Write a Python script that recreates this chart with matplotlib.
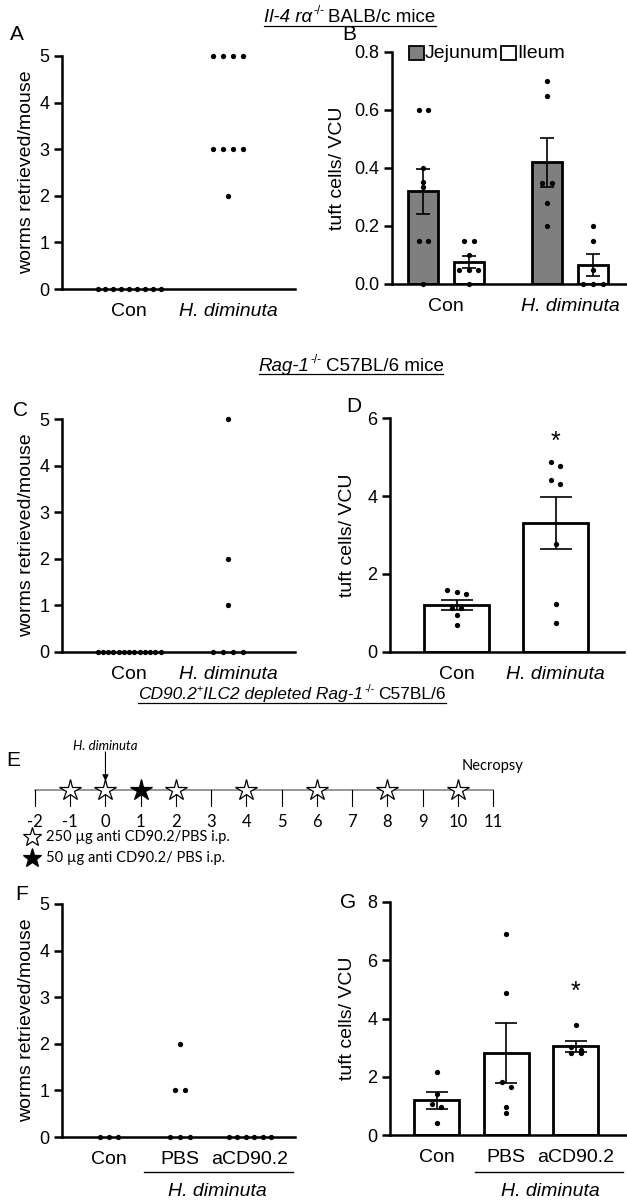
import matplotlib
matplotlib.use('Agg')
import matplotlib.pyplot as plt
from matplotlib.lines import Line2D
from matplotlib.patches import Rectangle
import numpy as np

plt.rcParams['font.family'] = ['Liberation Sans', 'DejaVu Sans']

# ---------------- data ----------------
# Panel A  (Il-4 ra-/- BALB/c) worms retrieved
a_labels = ['Con', 'H. diminuta']
a_con = [0, 0, 0, 0, 0, 0, 0, 0, 0]
a_hd = [5, 5, 5, 5, 3, 3, 3, 3, 2]

# Panel B  tuft cells / VCU, jejunum & ileum
b_labels = ['Con', 'H. diminuta']
b_series = ['Jejunum', 'Ileum']
b_jej_mean = [0.32, 0.42]
b_jej_sem = [0.077, 0.085]
b_ile_mean = [0.077, 0.065]
b_ile_sem = [0.021, 0.037]
b_jej_con = [0.6, 0.6, 0.4, 0.353, 0.333, 0.15, 0.15, 0.0]
b_jej_hd = [0.7, 0.65, 0.35, 0.35, 0.28, 0.2]
b_ile_con = [0.15, 0.15, 0.1, 0.05, 0.05, 0.05, 0.0]
b_ile_hd = [0.2, 0.15, 0.05, 0.0, 0.0, 0.0]

# Panel C  (Rag-1-/-) worms retrieved
c_labels = ['Con', 'H. diminuta']
c_con = [0] * 13
c_hd = [5, 2, 1, 0, 0, 0, 0]

# Panel D  tuft cells / VCU
d_labels = ['Con', 'H. diminuta']
d_mean = [1.21, 3.31]
d_sem = [0.135, 0.66]
d_con = [1.6, 1.53, 1.5, 1.14, 1.12, 0.95, 0.69]
d_hd = [4.88, 4.76, 4.42, 4.32, 2.78, 1.24, 0.74]

# Panel E  timeline
e_days = list(range(-2, 12))
e_open_star_days = [-1, 0, 2, 4, 6, 8, 10]
e_filled_star_days = [1]
e_infection_day = 0
e_necropsy_day = 11

# Panel F  worms retrieved
f_labels = ['Con', 'PBS', 'aCD90.2']
f_con = [0, 0, 0]
f_pbs = [2, 1, 1, 0, 0, 0]
f_acd = [0, 0, 0, 0, 0, 0]

# Panel G  tuft cells / VCU
g_labels = ['Con', 'PBS', 'aCD90.2']
g_mean = [1.19, 2.82, 3.05]
g_sem = [0.29, 1.02, 0.19]
g_con = [2.15, 1.4, 1.05, 0.95, 0.4]
g_pbs = [6.9, 4.89, 1.81, 1.64, 0.96, 0.77]
g_acd = [3.76, 3.03, 2.92, 2.82, 2.82]

# ---------------- helpers ----------------
W, H = 627, 1200
fig = plt.figure(figsize=(W / 100, H / 100), dpi=100)

TICK_FS = 13
XLAB_FS = 14
YLAB_FS = 14
LET_FS = 15
E_FONT = ['Lato', 'DejaVu Sans']


def add_ax(l, t, r, b):
    return fig.add_axes([l / W, 1 - b / H, (r - l) / W, (b - t) / H])


def style(ax):
    for s in ['top', 'right']:
        ax.spines[s].set_visible(False)
    for s in ['left', 'bottom']:
        ax.spines[s].set_linewidth(1.8)
    ax.tick_params(axis='y', direction='out', length=6, width=1.8,
                   labelsize=TICK_FS, pad=3)
    ax.tick_params(axis='x', length=0, labelsize=XLAB_FS, pad=10)
    ax.patch.set_alpha(0)


def set_xlabels(ax, labels):
    ax.set_xticks(range(len(labels)))
    ax.set_xticklabels(labels)
    for t in ax.get_xticklabels():
        if t.get_text().startswith('H.'):
            t.set_style('italic')


def spread_x(ax, center, values, spacing_px=9.0, maxw_px=63, tol_px=5):
    bb = ax.get_position()
    xl = ax.get_xlim()
    yl = ax.get_ylim()
    ppx = bb.width * W / (xl[1] - xl[0])
    ppy = bb.height * H / (yl[1] - yl[0])
    vals = np.asarray(values, float)
    order = np.argsort(-vals, kind='stable')
    rows = []
    for i in order:
        if rows and abs(vals[rows[-1][0]] - vals[i]) * ppy < tol_px:
            rows[-1].append(i)
        else:
            rows.append([i])
    xs = np.zeros(len(vals))
    for row in rows:
        n = len(row)
        s = spacing_px if n < 2 else min(spacing_px, maxw_px / (n - 1))
        for k, i in enumerate(row):
            xs[i] = center + (k - (n - 1) / 2) * s / ppx
    return xs


def dots(ax, center, values, ms=3.8, **kw):
    xs = spread_x(ax, center, values, **kw)
    ax.plot(xs, values, 'o', color='k', ms=ms, mew=0, clip_on=False, zorder=5)


def bar_px(ax):
    bb = ax.get_position()
    xl = ax.get_xlim()
    return bb.width * W / (xl[1] - xl[0])


def bars(ax, pos, means, sems, width, color='white'):
    ax.bar(pos, means, width, color=color, edgecolor='k', linewidth=2.0,
           zorder=2)
    cap_pt = width * bar_px(ax) * 0.25 * 0.72
    ax.errorbar(pos, means, yerr=sems, fmt='none', ecolor='k',
                elinewidth=1.2, capsize=cap_pt, capthick=1.2, zorder=4)


def ylab(x, y, s):
    fig.text(x / W, 1 - y / H, s, rotation=90, ha='center', va='center',
             fontsize=YLAB_FS)


def letter(x, y, s):
    fig.text(x / W, 1 - y / H, s, ha='center', va='center', fontsize=LET_FS)


def rich_title(cx, y, pieces, size, family=None):
    objs = []
    for txt, st, sup, gap in pieces:
        fs = size * 0.62 if sup else size
        kw = {}
        if family:
            kw['family'] = family
        o = fig.text(0, 0, txt, fontsize=fs, style=st, ha='left',
                     va='baseline', **kw)
        objs.append((o, sup, gap))
    fig.canvas.draw()
    r = fig.canvas.get_renderer()
    widths = [o.get_window_extent(r).width for o, _, _ in objs]
    total = sum(widths) + sum(g for _, _, g in objs)
    x = cx - total / 2
    for (o, sup, gap), w in zip(objs, widths):
        x += gap
        yy = y - (size * 1.389 * 0.42 if sup else 0)
        o.set_position((x / W, 1 - yy / H))
        x += w
    x0 = cx - total / 2
    fig.add_artist(Line2D([x0 / W, (x0 + total) / W],
                          [1 - (y + 3.5) / H] * 2, color='k', lw=0.9,
                          transform=fig.transFigure))


# ---------------- titles ----------------
rich_title(350, 22, [('Il-4 rα', 'italic', False, 0),
                     ('-/-', 'normal', True, 1),
                     ('BALB/c mice', 'normal', False, 4)], 13.5)
rich_title(351, 371, [('Rag-1', 'italic', False, 0),
                      ('-/-', 'normal', True, 1),
                      ('C57BL/6 mice', 'normal', False, 4)], 13.5)
rich_title(292, 699, [('CD90.2', 'italic', False, 0),
                      ('+', 'normal', True, 0),
                      ('ILC2 depleted Rag-1', 'italic', False, 0),
                      ('-/-', 'normal', True, 1),
                      ('C57BL/6', 'normal', False, 4)], 12.5)

# ---------------- Panel A ----------------
axA = add_ax(62, 56, 295, 289)
style(axA)
axA.set_xlim(-0.677, 1.677)
axA.set_ylim(0, 5)
axA.set_yticks(range(0, 6))
set_xlabels(axA, a_labels)
dots(axA, 0, a_con)
dots(axA, 1, a_hd, spacing_px=9.7)
ylab(27, 172, 'worms retrieved/mouse')
letter(17, 35, 'A')

# ---------------- Panel B ----------------
axB = add_ax(392, 52, 626, 284)
style(axB)
axB.set_xlim(-0.435, 1.45)
axB.set_ylim(0, 0.8)
axB.set_yticks(np.arange(0, 0.81, 0.2))
axB.set_yticklabels([f'{v:.1f}' for v in np.arange(0, 0.81, 0.2)])
set_xlabels(axB, b_labels)
off = 0.185
bw = 0.24
gx = np.arange(len(b_labels))
bars(axB, gx - off, b_jej_mean, b_jej_sem, bw, color='#7f7f7f')
bars(axB, gx + off, b_ile_mean, b_ile_sem, bw, color='white')
dots(axB, 0 - off, b_jej_con, spacing_px=9)
dots(axB, 1 - off, b_jej_hd, spacing_px=10)
dots(axB, 0 + off, b_ile_con, spacing_px=9.5)
dots(axB, 1 + off, b_ile_hd, spacing_px=10)
ylab(338, 168, 'tuft cells/ VCU')
letter(349, 35, 'B')
# legend
for (x0, col, name) in [(409, '#7f7f7f', b_series[0]), (501, 'white', b_series[1])]:
    fig.add_artist(Rectangle((x0 / W, 1 - 60 / H), 15 / W, 14 / H,
                             transform=fig.transFigure, facecolor=col,
                             edgecolor='k', lw=1.3))
    fig.text((x0 + 16) / W, 1 - 53 / H, name, ha='left', va='center',
             fontsize=14)

# ---------------- Panel C ----------------
axC = add_ax(62, 419, 295, 652)
style(axC)
axC.set_xlim(-0.677, 1.677)
axC.set_ylim(0, 5)
axC.set_yticks(range(0, 6))
set_xlabels(axC, c_labels)
dots(axC, 0, c_con)
dots(axC, 1, c_hd, spacing_px=9.7)
ylab(27, 535, 'worms retrieved/mouse')
letter(20, 410, 'C')

# ---------------- Panel D ----------------
axD = add_ax(390, 418, 624, 652)
style(axD)
axD.set_xlim(-0.672, 1.69)
axD.set_ylim(0, 6)
axD.set_yticks([0, 2, 4, 6])
set_xlabels(axD, d_labels)
bars(axD, [0, 1], d_mean, d_sem, 0.657)
dots(axD, 0, d_con, spacing_px=9.5)
dots(axD, 1, d_hd, spacing_px=9.5)
axD.text(1, 5.38, '*', ha='center', va='center', fontsize=18)
ylab(347, 535, 'tuft cells/ VCU')
letter(354, 407, 'D')

# ---------------- Panel E ----------------
axE = add_ax(0, 740, 627, 870)
axE.set_axis_off()
ppd = (493 - 35) / (e_days[-1] - e_days[0])
axE.set_xlim(e_days[0] - 35 / ppd, e_days[-1] + (627 - 493) / ppd)
axE.set_ylim(870, 740)
LINE_Y, TICK_Y, LAB_Y = 790, 806, 822
axE.plot([e_days[0], e_days[-1]], [LINE_Y, LINE_Y], color='#7a7a7a', lw=1.1,
         zorder=1)
for d in e_days:
    axE.plot([d, d], [LINE_Y, TICK_Y], color='k', lw=0.8, zorder=1)
    axE.text(d, LAB_Y, str(d), ha='center', va='center', fontsize=12,
             family=E_FONT)
axE.plot(e_open_star_days, [LINE_Y] * len(e_open_star_days), '*', ms=16,
         mfc='white', mec='k', mew=0.9, zorder=3)
axE.plot(e_filled_star_days, [LINE_Y] * len(e_filled_star_days), '*', ms=16,
         mfc='k', mec='k', mew=0.9, zorder=3)
axE.annotate('', xy=(e_infection_day, 781), xytext=(e_infection_day, 752),
             arrowprops=dict(arrowstyle='-|>', color='k', lw=0.8,
                             mutation_scale=9, shrinkA=0, shrinkB=0))
axE.text(e_infection_day, 746, 'H. diminuta', ha='center', va='center',
         fontsize=9.5, style='italic', family=E_FONT)
axE.text(e_necropsy_day, 766, 'Necropsy', ha='center', va='center',
         fontsize=10.5, family=E_FONT)
lx = e_days[0] + (32 - 35) / ppd
axE.plot([lx], [837], '*', ms=14, mfc='white', mec='k', mew=0.9,
         clip_on=False)
axE.plot([lx], [858], '*', ms=14, mfc='k', mec='k', mew=0.9, clip_on=False)
tx = e_days[0] + (46 - 35) / ppd
axE.text(tx, 837, '250 µg anti CD90.2/PBS i.p.', ha='left', va='center',
         fontsize=10.5, family=E_FONT)
axE.text(tx, 858, '50 µg anti CD90.2/ PBS i.p.', ha='left', va='center',
         fontsize=10.5, family=E_FONT)
fig.text(13 / W, 1 - 761 / H, 'E', ha='center', va='center', fontsize=15)

# ---------------- Panel F ----------------
axF = add_ax(62, 904, 295, 1137)
style(axF)
axF.set_xlim(-0.667, 2.638)
axF.set_ylim(0, 5)
axF.set_yticks(range(0, 6))
set_xlabels(axF, f_labels)
dots(axF, 0, f_con)
dots(axF, 1, f_pbs, spacing_px=10)
dots(axF, 2, f_acd, spacing_px=8.4)
ylab(27, 1020, 'worms retrieved/mouse')
letter(22, 895, 'F')
fig.add_artist(Line2D([144 / W, 293 / W], [1 - 1172 / H] * 2, color='k',
                      lw=1.0, transform=fig.transFigure))
fig.text(217 / W, 1 - 1192 / H, 'H. diminuta', ha='center', va='center',
         fontsize=XLAB_FS, style='italic')

# ---------------- Panel G ----------------
axG = add_ax(390, 902, 626, 1135)
style(axG)
axG.set_xlim(-0.67, 2.72)
axG.set_ylim(0, 8)
axG.set_yticks([0, 2, 4, 6, 8])
set_xlabels(axG, g_labels)
bars(axG, [0, 1, 2], g_mean, g_sem, 0.647)
dots(axG, 0, g_con, spacing_px=9.5)
dots(axG, 1, g_pbs, spacing_px=9.5)
dots(axG, 2, g_acd, spacing_px=9.5)
axG.text(2, 4.92, '*', ha='center', va='center', fontsize=18)
ylab(347, 1018, 'tuft cells/ VCU')
letter(348, 902, 'G')
fig.add_artist(Line2D([475 / W, 623 / W], [1 - 1172 / H] * 2, color='k',
                      lw=1.0, transform=fig.transFigure))
fig.text(550 / W, 1 - 1192 / H, 'H. diminuta', ha='center', va='center',
         fontsize=XLAB_FS, style='italic')

fig.savefig('out.png', dpi=100)
